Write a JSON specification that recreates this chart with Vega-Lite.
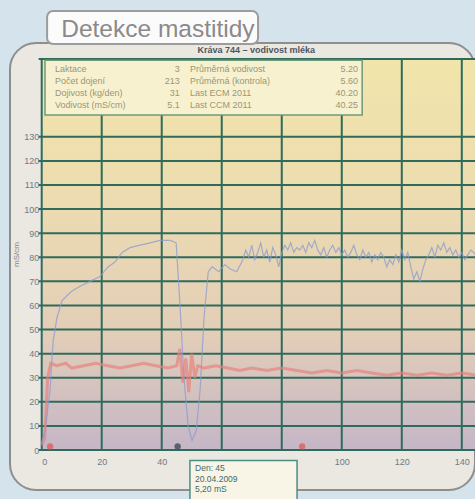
{
  "$schema": "https://vega.github.io/schema/vega-lite/v6.json",
  "width": 465,
  "height": 447,
  "autosize": {"type": "none"},
  "padding": {"left": 10, "top": 43, "right": 0, "bottom": 9},
  "background": "#d4e3ec",
  "config": {
    "view": {"fill": "#ebe7e1", "stroke": "#8e8e8e", "strokeWidth": 2, "cornerRadius": 26},
    "font": "Liberation Sans",
    "axisX": {"offset": -40, "tickCount": 7, "grid": false, "domain": false, "ticks": false, "labelFontSize": 9, "labelColor": "#6b7d86", "labelPadding": 7, "labelExpr": "datum.value == 60 || datum.value == 80 ? '' : datum.label"},
    "axisY": {"offset": -31.7, "tickCount": 16, "grid": false, "domain": false, "ticks": false, "labelFontSize": 9, "labelColor": "#6b7d86", "labelPadding": 3, "labelOverlap": false, "titleFontSize": 8, "titleFontWeight": "normal", "titleColor": "#7a8a92", "titlePadding": 3, "labelExpr": "datum.value > 135 ? '' : datum.label"}
  },
  "data": {"values": [{}]},
  "layer": [
    {
      "mark": {"type": "rect", "fill": "#fbfbfb", "stroke": "#9c9c9c", "strokeWidth": 2, "cornerRadius": 6, "clip": false},
      "encoding": {
        "x": {"datum": 1.8, "type": "quantitative", "scale": {"domain": [0, 144.4], "range": [31.7, 465], "nice": false, "zero": false}, "title": null},
        "x2": {"datum": 72.1},
        "y": {"datum": 182.2, "type": "quantitative", "scale": {"domain": [0, 162.7], "range": [407, 15], "nice": false, "zero": false}, "title": "mS/cm"},
        "y2": {"datum": 168.5}
      }
    },
    {
      "mark": {"type": "text", "text": "Detekce mastitidy", "fontSize": 24.5, "color": "#8a8a8a", "align": "left", "baseline": "alphabetic", "clip": false},
      "encoding": {
        "x": {"datum": 6.5, "type": "quantitative", "scale": {"domain": [0, 144.4], "range": [31.7, 465], "nice": false, "zero": false}, "title": null},
        "y": {"datum": 171.3, "type": "quantitative", "scale": {"domain": [0, 162.7], "range": [407, 15], "nice": false, "zero": false}, "title": "mS/cm"}
      }
    },
    {
      "mark": {
        "type": "rect",
        "clip": false,
        "fill": {
          "gradient": "linear", "x1": 0, "y1": 0, "x2": 0, "y2": 1,
          "stops": [
            {"offset": 0, "color": "#f1e5aa"},
            {"offset": 0.35, "color": "#eddcb0"},
            {"offset": 0.7, "color": "#e3ceb8"},
            {"offset": 1, "color": "#c5b6c7"}
          ]
        }
      },
      "encoding": {
        "x": {"datum": 0, "type": "quantitative", "scale": {"domain": [0, 144.4], "range": [31.7, 465], "nice": false, "zero": false}, "title": null},
        "x2": {"datum": 146},
        "y": {"datum": 0, "type": "quantitative", "scale": {"domain": [0, 162.7], "range": [407, 15], "nice": false, "zero": false}, "title": "mS/cm"},
        "y2": {"datum": 162.7}
      }
    },
    {
      "data": {"values": [{"day": 0}, {"day": 20}, {"day": 40}, {"day": 60}, {"day": 80}, {"day": 100}, {"day": 120}, {"day": 140}]},
      "mark": {"type": "rule", "color": "#2f6b5c", "strokeWidth": 2, "clip": false},
      "encoding": {
        "x": {"field": "day", "type": "quantitative", "scale": {"domain": [0, 144.4], "range": [31.7, 465], "nice": false, "zero": false}, "title": null},
        "y": {"datum": 0, "type": "quantitative", "scale": {"domain": [0, 162.7], "range": [407, 15], "nice": false, "zero": false}, "title": "mS/cm"},
        "y2": {"datum": 162.7}
      }
    },
    {
      "data": {"values": [{"value": 0}, {"value": 10}, {"value": 20}, {"value": 30}, {"value": 40}, {"value": 50}, {"value": 60}, {"value": 70}, {"value": 80}, {"value": 90}, {"value": 100}, {"value": 110}, {"value": 120}, {"value": 130}, {"value": 162.3}]},
      "mark": {"type": "rule", "color": "#2f6b5c", "strokeWidth": 2, "clip": false},
      "encoding": {
        "y": {"field": "value", "type": "quantitative", "scale": {"domain": [0, 162.7], "range": [407, 15], "nice": false, "zero": false}, "title": "mS/cm"},
        "x": {"datum": -1, "type": "quantitative", "scale": {"domain": [0, 144.4], "range": [31.7, 465], "nice": false, "zero": false}, "title": null},
        "x2": {"datum": 146}
      }
    },
    {
      "data": {"values": [
        {"day": 0, "value": 2}, {"day": 1, "value": 5}, {"day": 2, "value": 30}, {"day": 3, "value": 36}, {"day": 5, "value": 35},
        {"day": 8, "value": 36}, {"day": 10, "value": 34}, {"day": 14, "value": 35}, {"day": 18, "value": 36}, {"day": 22, "value": 35},
        {"day": 26, "value": 34}, {"day": 30, "value": 35}, {"day": 34, "value": 36}, {"day": 38, "value": 35}, {"day": 42, "value": 34},
        {"day": 45, "value": 35}, {"day": 46, "value": 42}, {"day": 47, "value": 28}, {"day": 48, "value": 38}, {"day": 49, "value": 24},
        {"day": 50, "value": 40}, {"day": 51, "value": 30}, {"day": 52, "value": 35}, {"day": 54, "value": 34}, {"day": 58, "value": 35},
        {"day": 62, "value": 34}, {"day": 66, "value": 33}, {"day": 70, "value": 34}, {"day": 75, "value": 33}, {"day": 80, "value": 34},
        {"day": 85, "value": 33}, {"day": 90, "value": 32}, {"day": 95, "value": 33}, {"day": 100, "value": 32}, {"day": 105, "value": 33},
        {"day": 110, "value": 32}, {"day": 115, "value": 31}, {"day": 120, "value": 32}, {"day": 125, "value": 31}, {"day": 130, "value": 32},
        {"day": 135, "value": 31}, {"day": 140, "value": 32}, {"day": 145, "value": 31}
      ]},
      "mark": {"type": "line", "color": "#e5837d", "strokeWidth": 3, "opacity": 0.7},
      "encoding": {
        "x": {"field": "day", "type": "quantitative", "scale": {"domain": [0, 144.4], "range": [31.7, 465], "nice": false, "zero": false}, "title": null},
        "y": {"field": "value", "type": "quantitative", "scale": {"domain": [0, 162.7], "range": [407, 15], "nice": false, "zero": false}, "title": "mS/cm"}
      }
    },
    {
      "data": {"values": [
        {"day": 0, "value": 3}, {"day": 1.1, "value": 8}, {"day": 2.8, "value": 25}, {"day": 3.8, "value": 45}, {"day": 5.1, "value": 55},
        {"day": 6.8, "value": 62}, {"day": 8.4, "value": 64}, {"day": 10.1, "value": 66}, {"day": 12.8, "value": 68}, {"day": 16.1, "value": 70},
        {"day": 19.4, "value": 72}, {"day": 22.1, "value": 76}, {"day": 24.4, "value": 78}, {"day": 26.8, "value": 82}, {"day": 29.4, "value": 84},
        {"day": 32.8, "value": 85}, {"day": 36.1, "value": 86}, {"day": 39.4, "value": 87}, {"day": 42.8, "value": 87}, {"day": 44.8, "value": 86},
        {"day": 46.1, "value": 60}, {"day": 47.4, "value": 30}, {"day": 48.8, "value": 10}, {"day": 50.1, "value": 4}, {"day": 51.5, "value": 8},
        {"day": 52.8, "value": 25}, {"day": 54.1, "value": 55}, {"day": 55.5, "value": 74}, {"day": 56.8, "value": 76},
        {"day": 59, "value": 74}, {"day": 61, "value": 77}, {"day": 63, "value": 75}, {"day": 65, "value": 74}, {"day": 67, "value": 79},
        {"day": 68, "value": 83}, {"day": 69, "value": 80}, {"day": 70, "value": 85}, {"day": 71, "value": 79}, {"day": 72, "value": 82},
        {"day": 73, "value": 86}, {"day": 74, "value": 80}, {"day": 75, "value": 83}, {"day": 76, "value": 78}, {"day": 77, "value": 84},
        {"day": 78, "value": 81}, {"day": 79, "value": 76}, {"day": 80, "value": 82}, {"day": 81, "value": 85}, {"day": 82, "value": 83},
        {"day": 83, "value": 86}, {"day": 84, "value": 82}, {"day": 85, "value": 84}, {"day": 86, "value": 83}, {"day": 87, "value": 85},
        {"day": 88, "value": 82}, {"day": 89, "value": 86}, {"day": 90, "value": 84}, {"day": 91, "value": 87}, {"day": 92, "value": 83},
        {"day": 93, "value": 81}, {"day": 94, "value": 84}, {"day": 95, "value": 80}, {"day": 96, "value": 83}, {"day": 97, "value": 85},
        {"day": 98, "value": 82}, {"day": 99, "value": 84}, {"day": 100, "value": 81}, {"day": 101, "value": 83}, {"day": 102, "value": 80},
        {"day": 103, "value": 82}, {"day": 104, "value": 85}, {"day": 105, "value": 81}, {"day": 106, "value": 79}, {"day": 107, "value": 83},
        {"day": 108, "value": 80}, {"day": 109, "value": 82}, {"day": 110, "value": 78}, {"day": 111, "value": 81}, {"day": 112, "value": 79},
        {"day": 113, "value": 82}, {"day": 114, "value": 80}, {"day": 115, "value": 76}, {"day": 116, "value": 79}, {"day": 117, "value": 77},
        {"day": 118, "value": 81}, {"day": 119, "value": 78}, {"day": 120, "value": 83}, {"day": 121, "value": 79}, {"day": 122, "value": 82},
        {"day": 123, "value": 76}, {"day": 124, "value": 71}, {"day": 125, "value": 74}, {"day": 126, "value": 70}, {"day": 127, "value": 75},
        {"day": 128, "value": 79}, {"day": 129, "value": 81}, {"day": 130, "value": 84}, {"day": 131, "value": 80}, {"day": 132, "value": 85},
        {"day": 133, "value": 83}, {"day": 134, "value": 86}, {"day": 135, "value": 82}, {"day": 136, "value": 84}, {"day": 137, "value": 81},
        {"day": 138, "value": 83}, {"day": 139, "value": 80}, {"day": 140, "value": 82}, {"day": 141, "value": 79}, {"day": 142, "value": 81},
        {"day": 143, "value": 83}, {"day": 144, "value": 82}, {"day": 145, "value": 80}
      ]},
      "mark": {"type": "line", "color": "#8a9bd0", "strokeWidth": 1.2, "opacity": 0.75},
      "encoding": {
        "x": {"field": "day", "type": "quantitative", "scale": {"domain": [0, 144.4], "range": [31.7, 465], "nice": false, "zero": false}, "title": null},
        "y": {"field": "value", "type": "quantitative", "scale": {"domain": [0, 162.7], "range": [407, 15], "nice": false, "zero": false}, "title": "mS/cm"}
      }
    },
    {
      "data": {"values": [{"day": 2.8, "value": 1.5, "k": "r"}, {"day": 45.3, "value": 1.5, "k": "d"}, {"day": 86.8, "value": 1.5, "k": "r"}]},
      "mark": {"type": "point", "filled": true, "size": 40, "opacity": 0.8},
      "encoding": {
        "x": {"field": "day", "type": "quantitative", "scale": {"domain": [0, 144.4], "range": [31.7, 465], "nice": false, "zero": false}, "title": null},
        "y": {"field": "value", "type": "quantitative", "scale": {"domain": [0, 162.7], "range": [407, 15], "nice": false, "zero": false}, "title": "mS/cm"},
        "color": {"field": "k", "type": "nominal", "scale": {"domain": ["r", "d"], "range": ["#d9605a", "#3f4a5a"]}, "legend": null}
      }
    },
    {
      "mark": {"type": "rect", "fill": "#f7f1d0", "stroke": "#6f9a7a", "strokeWidth": 1.5, "clip": false},
      "encoding": {
        "x": {"datum": 1.1, "type": "quantitative", "scale": {"domain": [0, 144.4], "range": [31.7, 465], "nice": false, "zero": false}, "title": null},
        "x2": {"datum": 106.8},
        "y": {"datum": 161.8, "type": "quantitative", "scale": {"domain": [0, 162.7], "range": [407, 15], "nice": false, "zero": false}, "title": "mS/cm"},
        "y2": {"datum": 139}
      }
    },
    {
      "data": {"values": [
        {"day": 4.4, "value": 158.3, "label": "Laktace"},
        {"day": 4.4, "value": 153.3, "label": "Počet dojení"},
        {"day": 4.4, "value": 148.2, "label": "Dojivost (kg/den)"},
        {"day": 4.4, "value": 143.2, "label": "Vodivost (mS/cm)"},
        {"day": 49.4, "value": 158.3, "label": "Průměrná vodivost"},
        {"day": 49.4, "value": 153.3, "label": "Průměrná (kontrola)"},
        {"day": 49.4, "value": 148.2, "label": "Last ECM 2011"},
        {"day": 49.4, "value": 143.2, "label": "Last CCM 2011"}
      ]},
      "mark": {"type": "text", "align": "left", "baseline": "middle", "fontSize": 9, "color": "#9d9675", "clip": false},
      "encoding": {
        "x": {"field": "day", "type": "quantitative", "scale": {"domain": [0, 144.4], "range": [31.7, 465], "nice": false, "zero": false}, "title": null},
        "y": {"field": "value", "type": "quantitative", "scale": {"domain": [0, 162.7], "range": [407, 15], "nice": false, "zero": false}, "title": "mS/cm"},
        "text": {"field": "label"}
      }
    },
    {
      "data": {"values": [
        {"day": 46, "value": 158.3, "label": "3"},
        {"day": 46, "value": 153.3, "label": "213"},
        {"day": 46, "value": 148.2, "label": "31"},
        {"day": 46, "value": 143.2, "label": "5.1"},
        {"day": 105.4, "value": 158.3, "label": "5.20"},
        {"day": 105.4, "value": 153.3, "label": "5.60"},
        {"day": 105.4, "value": 148.2, "label": "40.20"},
        {"day": 105.4, "value": 143.2, "label": "40.25"}
      ]},
      "mark": {"type": "text", "align": "right", "baseline": "middle", "fontSize": 9, "color": "#9d9675", "clip": false},
      "encoding": {
        "x": {"field": "day", "type": "quantitative", "scale": {"domain": [0, 144.4], "range": [31.7, 465], "nice": false, "zero": false}, "title": null},
        "y": {"field": "value", "type": "quantitative", "scale": {"domain": [0, 162.7], "range": [407, 15], "nice": false, "zero": false}, "title": "mS/cm"},
        "text": {"field": "label"}
      }
    },
    {
      "mark": {"type": "text", "text": "Kráva 744 – vodivost mléka", "fontSize": 9, "fontWeight": "bold", "color": "#4b5763", "align": "center", "baseline": "middle", "clip": false},
      "encoding": {
        "x": {"datum": 71.5, "type": "quantitative", "scale": {"domain": [0, 144.4], "range": [31.7, 465], "nice": false, "zero": false}, "title": null},
        "y": {"datum": 166, "type": "quantitative", "scale": {"domain": [0, 162.7], "range": [407, 15], "nice": false, "zero": false}, "title": "mS/cm"}
      }
    },
    {
      "mark": {"type": "rect", "fill": "#f8f4e6", "stroke": "#4b8c84", "strokeWidth": 1.5, "clip": false},
      "encoding": {
        "x": {"datum": 49.4, "type": "quantitative", "scale": {"domain": [0, 144.4], "range": [31.7, 465], "nice": false, "zero": false}, "title": null},
        "x2": {"datum": 85.1},
        "y": {"datum": -4.4, "type": "quantitative", "scale": {"domain": [0, 162.7], "range": [407, 15], "nice": false, "zero": false}, "title": "mS/cm"},
        "y2": {"datum": -25}
      }
    },
    {
      "data": {"values": [
        {"day": 51.1, "value": -7.5, "label": "Den: 45"},
        {"day": 51.1, "value": -12, "label": "20.04.2009"},
        {"day": 51.1, "value": -16.2, "label": "5,20 mS"}
      ]},
      "mark": {"type": "text", "align": "left", "baseline": "middle", "fontSize": 8.5, "color": "#3e6c66", "clip": false},
      "encoding": {
        "x": {"field": "day", "type": "quantitative", "scale": {"domain": [0, 144.4], "range": [31.7, 465], "nice": false, "zero": false}, "title": null},
        "y": {"field": "value", "type": "quantitative", "scale": {"domain": [0, 162.7], "range": [407, 15], "nice": false, "zero": false}, "title": "mS/cm"},
        "text": {"field": "label"}
      }
    }
  ]
}
